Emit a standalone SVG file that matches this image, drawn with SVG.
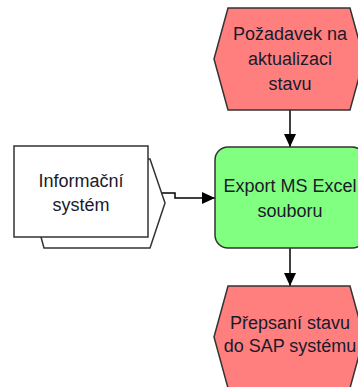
<svg xmlns="http://www.w3.org/2000/svg" width="358" height="387" viewBox="0 0 358 387">
<defs>
<marker id="arr" markerUnits="userSpaceOnUse" markerWidth="14" markerHeight="12" refX="13" refY="6" orient="auto">
<path d="M0,0 L13,6 L0,12 Z" fill="#000"/>
</marker>
<style>
.ev{fill:#FF7F7F;stroke:#333;stroke-width:1.5}
.fn{fill:#80FF80;stroke:#333;stroke-width:1.5}
.is{fill:#fff;stroke:#333;stroke-width:1.5}
.t{font-family:"Liberation Sans",Arial,sans-serif;font-size:18px;fill:#1a1a2a;text-anchor:middle}
.c{fill:none;stroke:#000;stroke-width:1.5}
</style>
</defs>
<rect width="358" height="387" fill="#fff"/>
<g id="connectors">
<line class="c" x1="290" y1="110" x2="290" y2="147" marker-end="url(#arr)"/>
<line class="c" x1="290" y1="248" x2="290" y2="286" marker-end="url(#arr)"/>
<path class="c" d="M148,193 H175 V198 H215" marker-end="url(#arr)"/>
</g>
<g id="event-pozadavek">
<polygon class="ev" points="228,8 350,8 364,59 350,110 228,110 214,59"/>
<text class="t" x="290" y="40">Požadavek na</text>
<text class="t" x="290" y="65">aktualizaci</text>
<text class="t" x="290" y="90">stavu</text>
</g>
<g id="function-export">
<rect class="fn" x="215" y="147" width="150" height="101" rx="13"/>
<text class="t" x="290" y="192">Export MS Excel</text>
<text class="t" x="290" y="217">souboru</text>
</g>
<g id="event-prepsani">
<polygon class="ev" points="228,286 350,286 364,337 350,388 228,388 214,337"/>
<text class="t" x="290" y="329">Přepsaní stavu</text>
<text class="t" x="290" y="352">do SAP systému</text>
</g>
<g id="system-informacni">
<polygon class="is" points="28,159 150,159 165,203 150,248 44,248 41,237"/>
<rect class="is" x="14" y="146" width="134" height="91"/>
<text class="t" x="81" y="187">Informační</text>
<text class="t" x="81" y="211">systém</text>
</g>
</svg>
